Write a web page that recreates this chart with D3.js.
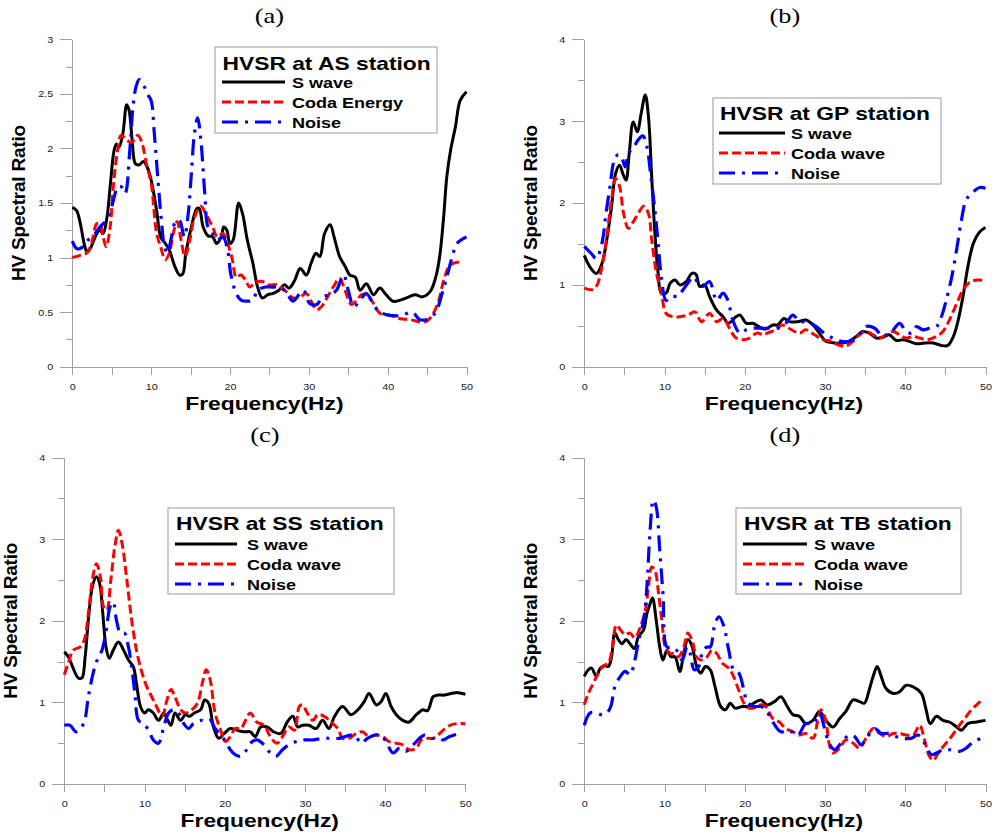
<!DOCTYPE html>
<html>
<head>
<meta charset="utf-8">
<script src="https://d3js.org/d3.v7.min.js"></script>
<style>
  body { margin:0; background:#fff; }
  text { font-family: "Liberation Sans", Arial, sans-serif; }
  .axis path, .axis line { stroke:#a0a0a0; stroke-width:1; shape-rendering:crispEdges; }
  .axis text { font-size:9px; fill:#222; }
  .ttl { font-weight:bold; fill:#000; }
  .panel-label { font-family:"Liberation Serif", "Times New Roman", serif; font-size:22px; }
  .curve { fill:none; stroke-linejoin:round; }
</style>
</head>
<body>
<script>
// ---- data: [frequency (Hz), HV ratio] ----
var asS = [[0,1.46],[0.55,1.43],[1.6,1.10],[1.9,1.05],[2.4,1.10],[3.1,1.22],[3.5,1.25],[3.9,1.22],[4.4,1.37],[4.8,1.65],[5.3,1.98],[5.6,2.04],[5.9,2.01],[6.4,2.13],[6.9,2.40],[7.2,2.35],[7.6,2.07],[8.0,1.86],[8.5,1.85],[9.0,1.88],[9.5,1.83],[10.0,1.71],[10.7,1.43],[11.2,1.19],[11.7,1.14],[12.3,1.07],[13.0,0.92],[13.6,0.84],[14.0,0.85],[14.4,1.04],[15.1,1.28],[15.8,1.45],[16.1,1.45],[16.6,1.28],[17.2,1.20],[17.8,1.19],[18.3,1.13],[18.9,1.19],[19.2,1.28],[19.6,1.25],[20.0,1.13],[20.4,1.16],[21.1,1.50],[21.6,1.40],[22.2,1.16],[22.9,0.95],[23.5,0.73],[24.1,0.63],[24.8,0.66],[25.4,0.67],[26.2,0.70],[26.9,0.75],[27.5,0.72],[28.2,0.79],[28.9,0.90],[29.7,0.84],[30.3,0.95],[30.9,1.04],[31.4,1.01],[32.0,1.22],[32.7,1.30],[33.2,1.19],[33.9,1.01],[34.6,0.92],[35.2,0.84],[35.9,0.82],[36.5,0.70],[37.3,0.76],[38.2,0.66],[39.0,0.72],[39.8,0.66],[40.7,0.60],[41.6,0.61],[42.7,0.64],[43.5,0.66],[44.4,0.64],[45.4,0.69],[46.1,0.82],[46.6,1.01],[47.1,1.37],[47.5,1.74],[48.0,1.99],[48.6,2.20],[49.2,2.44],[50,2.52]];
var asCoda = [[0,1.00],[1.0,1.02],[1.8,1.04],[2.4,1.12],[3.1,1.31],[3.5,1.31],[3.9,1.19],[4.3,1.10],[4.8,1.28],[5.2,1.65],[5.7,1.96],[6.2,2.12],[6.9,2.08],[7.5,2.05],[8.3,2.12],[8.8,2.06],[9.4,1.86],[10.0,1.68],[10.7,1.22],[11.2,1.10],[11.8,0.98],[12.3,1.04],[12.8,1.22],[13.3,1.33],[13.8,1.16],[14.3,1.01],[14.9,1.16],[15.5,1.37],[16.3,1.47],[17.0,1.39],[17.8,1.28],[18.4,1.19],[19.1,1.22],[19.7,1.13],[20.3,0.98],[20.8,0.82],[21.4,0.84],[22.0,0.79],[22.5,0.73],[23.3,0.78],[24.1,0.78],[25.0,0.75],[26.0,0.75],[27.1,0.69],[28.0,0.63],[28.9,0.64],[29.7,0.67],[30.3,0.60],[31.0,0.52],[31.6,0.55],[32.3,0.63],[33.1,0.73],[33.9,0.81],[34.6,0.70],[35.4,0.57],[36.1,0.61],[36.7,0.66],[37.4,0.66],[38.2,0.58],[39.0,0.49],[40.3,0.47],[41.6,0.44],[42.9,0.43],[44.1,0.41],[45.0,0.42],[45.8,0.49],[46.5,0.61],[47.1,0.79],[47.8,0.92],[48.4,0.95],[49.2,0.96]];
var asNoise = [[0,1.15],[0.6,1.08],[1.4,1.10],[2.0,1.16],[2.9,1.22],[3.5,1.28],[4.3,1.34],[5.0,1.47],[5.8,1.65],[6.2,1.65],[6.7,1.59],[7.3,1.99],[7.7,2.38],[8.1,2.57],[8.5,2.63],[9.1,2.57],[9.6,2.49],[10.0,2.44],[10.4,2.14],[10.9,1.68],[11.3,1.34],[11.7,1.10],[12.1,1.04],[12.5,1.16],[13.1,1.33],[13.6,1.34],[14.2,1.19],[14.7,1.40],[15.1,1.77],[15.5,2.14],[15.9,2.28],[16.3,2.08],[16.8,1.59],[17.2,1.28],[17.8,1.22],[18.4,1.16],[19.1,1.19],[19.7,1.07],[20.1,0.85],[20.8,0.67],[21.4,0.61],[22.2,0.60],[22.9,0.61],[23.5,0.70],[24.5,0.73],[25.4,0.73],[26.4,0.73],[27.3,0.66],[28.0,0.60],[29.3,0.70],[30.1,0.58],[31.0,0.57],[31.8,0.64],[32.7,0.66],[33.5,0.70],[34.4,0.84],[35.0,0.70],[35.7,0.55],[36.5,0.61],[37.3,0.67],[38.2,0.57],[39.0,0.50],[40.3,0.47],[41.8,0.47],[43.1,0.50],[44.1,0.43],[45.2,0.44],[46.1,0.50],[46.9,0.67],[47.5,0.82],[48.2,1.01],[48.8,1.13],[50,1.19]];

var gpS = [[0,1.36],[0.7,1.22],[1.5,1.14],[2.2,1.26],[2.8,1.55],[3.4,1.96],[3.9,2.36],[4.4,2.46],[4.8,2.36],[5.2,2.28],[5.6,2.61],[6.1,2.99],[6.6,2.87],[7.1,3.10],[7.6,3.32],[8.0,3.05],[8.4,2.32],[8.8,1.63],[9.2,1.14],[9.6,0.90],[10.2,0.90],[10.7,1.02],[11.3,1.06],[11.9,1.00],[12.7,1.04],[13.4,1.14],[13.9,1.13],[14.4,0.98],[15.0,1.00],[15.6,0.86],[16.5,0.69],[17.3,0.61],[17.9,0.53],[18.3,0.55],[18.9,0.61],[19.4,0.63],[20.2,0.53],[21.0,0.53],[21.9,0.48],[22.6,0.46],[23.5,0.51],[24.1,0.51],[24.9,0.59],[25.5,0.55],[26.6,0.55],[27.6,0.57],[28.5,0.51],[29.3,0.41],[30.1,0.31],[31.2,0.29],[32.2,0.29],[33.0,0.31],[33.9,0.37],[34.7,0.43],[35.5,0.41],[36.4,0.35],[37.2,0.36],[38.0,0.39],[38.9,0.32],[39.7,0.33],[40.5,0.31],[41.4,0.28],[42.4,0.29],[43.5,0.29],[44.5,0.26],[45.3,0.26],[46.0,0.37],[46.6,0.57],[47.2,0.86],[47.8,1.22],[48.5,1.51],[49.3,1.65],[50,1.70]];
var gpCoda = [[0,0.96],[0.9,0.94],[1.5,0.98],[2.2,1.22],[2.8,1.59],[3.4,2.04],[3.9,2.30],[4.4,2.20],[4.9,1.87],[5.5,1.69],[6.1,1.77],[6.7,1.87],[7.4,1.96],[8.0,1.87],[8.4,1.55],[9.0,1.14],[9.6,0.90],[10.2,0.65],[11.1,0.61],[11.9,0.61],[12.9,0.63],[13.8,0.67],[14.6,0.55],[15.6,0.65],[16.5,0.55],[17.3,0.59],[18.1,0.47],[18.8,0.36],[19.8,0.33],[20.6,0.35],[21.5,0.41],[22.3,0.39],[22.8,0.41],[23.8,0.45],[24.7,0.51],[25.5,0.47],[26.8,0.41],[27.6,0.45],[28.7,0.39],[29.7,0.33],[30.8,0.31],[31.8,0.26],[32.6,0.25],[33.5,0.31],[34.3,0.39],[35.1,0.43],[36.0,0.39],[36.8,0.35],[37.6,0.39],[38.5,0.43],[39.3,0.39],[40.1,0.35],[41.0,0.37],[41.8,0.35],[42.8,0.33],[43.9,0.37],[44.7,0.43],[45.5,0.57],[46.4,0.77],[47.2,0.94],[48.0,1.03],[49.1,1.06],[50,1.05]];
var gpNoise = [[0,1.47],[0.9,1.38],[1.5,1.32],[2.2,1.51],[2.7,1.87],[3.2,2.20],[3.7,2.51],[4.2,2.59],[4.6,2.57],[5.1,2.44],[5.5,2.61],[6.1,2.67],[6.7,2.77],[7.3,2.82],[7.8,2.69],[8.3,2.32],[8.8,1.91],[9.2,1.51],[9.6,1.10],[10.2,0.81],[10.9,0.86],[11.7,0.86],[12.3,0.94],[12.9,1.02],[13.6,1.10],[14.2,1.02],[14.8,0.98],[15.6,1.04],[16.5,0.81],[17.3,0.90],[17.9,0.81],[18.5,0.57],[19.4,0.41],[20.2,0.45],[21.0,0.47],[21.9,0.47],[23.0,0.47],[24.1,0.47],[25.1,0.53],[26.0,0.63],[26.8,0.55],[27.8,0.55],[28.9,0.49],[29.9,0.41],[31.0,0.35],[32.0,0.31],[33.0,0.31],[34.1,0.37],[35.1,0.49],[36.2,0.47],[37.2,0.37],[38.3,0.43],[39.3,0.53],[40.1,0.43],[40.8,0.41],[41.4,0.49],[42.2,0.45],[43.0,0.47],[43.9,0.49],[44.5,0.61],[45.1,0.81],[45.8,1.10],[46.4,1.43],[47.0,1.79],[47.6,2.04],[48.5,2.14],[49.3,2.19],[50,2.18]];

var ssS = [[0,1.62],[0.5,1.56],[1.1,1.42],[1.75,1.30],[2.2,1.30],[2.6,1.56],[3.0,2.01],[3.5,2.42],[4.0,2.54],[4.4,2.46],[4.8,2.09],[5.2,1.68],[5.6,1.54],[6.1,1.64],[6.75,1.74],[7.4,1.64],[8.0,1.52],[8.6,1.44],[9.0,1.23],[9.5,0.95],[10.0,0.87],[10.5,0.91],[11.1,0.87],[11.75,0.78],[12.4,0.87],[12.8,0.80],[13.3,0.72],[13.8,0.87],[14.5,0.78],[15.1,0.85],[15.6,0.83],[16.2,0.87],[17.0,0.91],[17.5,1.03],[18.0,0.99],[18.6,0.70],[19.25,0.56],[19.95,0.62],[20.7,0.68],[21.5,0.66],[22.4,0.64],[23.2,0.64],[23.8,0.58],[24.5,0.70],[25.3,0.70],[26.1,0.64],[27.0,0.62],[27.8,0.76],[28.5,0.83],[29.1,0.70],[29.7,0.72],[30.5,0.72],[31.4,0.68],[32.2,0.78],[33.0,0.68],[33.7,0.83],[34.7,0.95],[35.75,0.85],[36.6,0.91],[37.4,1.01],[38.0,1.11],[38.9,0.97],[39.5,1.01],[40.1,1.11],[40.75,0.95],[41.4,0.85],[42.2,0.78],[43.0,0.76],[43.9,0.85],[44.7,0.91],[45.3,0.90],[46.0,1.07],[46.6,1.09],[47.4,1.09],[48.25,1.11],[49.1,1.12],[50,1.10]];
var ssCoda = [[0,1.34],[0.5,1.48],[1.1,1.64],[2.0,1.68],[2.5,1.77],[3.0,2.09],[3.5,2.50],[4.0,2.70],[4.5,2.54],[4.9,2.17],[5.3,2.13],[5.8,2.50],[6.3,2.91],[6.75,3.11],[7.2,2.95],[7.8,2.50],[8.4,2.01],[9.0,1.64],[9.7,1.36],[10.3,1.19],[10.9,1.07],[11.5,0.95],[12.2,0.83],[12.8,1.03],[13.3,1.16],[13.8,1.07],[14.5,0.91],[15.1,0.87],[15.9,0.91],[16.6,0.99],[17.2,1.23],[17.7,1.40],[18.2,1.27],[18.8,0.87],[19.5,0.66],[20.1,0.52],[20.7,0.58],[21.3,0.68],[22.0,0.68],[22.6,0.78],[23.2,0.87],[24.0,0.76],[24.9,0.72],[25.7,0.58],[26.5,0.50],[27.2,0.58],[28.0,0.70],[28.7,0.66],[29.3,0.95],[29.7,0.97],[30.3,0.87],[31.0,0.78],[31.6,0.85],[32.4,0.83],[33.25,0.76],[34.1,0.68],[34.7,0.56],[35.5,0.56],[36.4,0.62],[37.2,0.64],[38.0,0.58],[38.9,0.60],[39.7,0.58],[40.5,0.52],[41.4,0.50],[42.2,0.48],[43.0,0.42],[43.9,0.44],[44.5,0.54],[45.3,0.56],[46.0,0.56],[46.6,0.60],[47.25,0.66],[48.1,0.72],[48.9,0.74],[50,0.74]];
var ssNoise = [[0,0.72],[0.7,0.72],[1.5,0.64],[2.4,0.74],[3.0,1.07],[3.6,1.36],[4.1,1.52],[4.7,1.64],[5.1,1.81],[5.4,2.01],[5.7,2.17],[6.1,2.23],[6.5,2.01],[7.0,1.85],[7.5,1.85],[8.0,1.68],[8.4,1.44],[8.8,1.11],[9.25,0.78],[9.9,0.74],[10.5,0.66],[11.1,0.54],[11.75,0.50],[12.4,0.70],[13.0,0.87],[13.6,0.91],[14.25,0.87],[14.9,0.74],[15.5,0.68],[16.1,0.74],[17.0,0.78],[17.6,0.76],[18.2,0.78],[18.8,0.68],[19.5,0.60],[20.1,0.52],[20.7,0.42],[21.3,0.36],[22.0,0.34],[22.6,0.40],[23.2,0.50],[24.0,0.54],[24.9,0.48],[25.7,0.38],[26.4,0.34],[27.2,0.42],[28.0,0.48],[28.9,0.52],[29.7,0.54],[31.0,0.54],[32.2,0.56],[33.25,0.56],[34.3,0.56],[35.3,0.59],[36.2,0.60],[37.0,0.50],[37.8,0.56],[38.7,0.60],[39.5,0.60],[40.1,0.52],[41.0,0.38],[41.8,0.44],[42.6,0.40],[43.5,0.48],[44.3,0.56],[44.9,0.60],[45.75,0.56],[46.6,0.56],[47.2,0.54],[48.0,0.58],[49.3,0.62]];

var tbS = [[0,1.32],[0.5,1.40],[0.9,1.42],[1.5,1.32],[2.0,1.42],[2.6,1.45],[3.0,1.44],[3.4,1.56],[3.8,1.85],[4.25,1.77],[4.7,1.72],[5.2,1.77],[5.7,1.72],[6.25,1.66],[6.75,1.81],[7.4,1.89],[7.8,2.09],[8.2,2.21],[8.5,2.28],[8.96,2.01],[9.4,1.68],[9.8,1.52],[10.3,1.64],[10.8,1.56],[11.3,1.56],[11.9,1.38],[12.4,1.60],[12.9,1.77],[13.4,1.70],[14.0,1.44],[14.5,1.36],[15.1,1.44],[15.7,1.40],[16.3,1.19],[17.0,0.95],[17.6,0.91],[18.2,0.99],[18.8,0.93],[19.7,0.95],[20.5,0.95],[21.1,0.99],[22.0,1.03],[22.8,0.97],[23.7,1.01],[24.5,1.07],[25.3,0.95],[26.0,0.85],[26.8,0.83],[27.6,0.74],[28.5,0.78],[29.3,0.89],[30.1,0.78],[31.0,0.70],[31.8,0.80],[32.6,0.89],[33.5,1.03],[34.3,1.01],[34.9,0.99],[35.5,1.15],[36.0,1.32],[36.5,1.44],[37.0,1.32],[37.6,1.17],[38.5,1.11],[39.3,1.13],[40.1,1.21],[41.0,1.19],[42.0,1.11],[42.6,0.91],[43.1,0.74],[43.9,0.83],[44.7,0.78],[45.5,0.76],[46.4,0.70],[47.0,0.66],[47.8,0.74],[48.9,0.76],[50,0.78]];
var tbCoda = [[0,0.97],[0.5,1.11],[1.1,1.23],[1.75,1.36],[2.4,1.45],[3.0,1.48],[3.5,1.68],[4.0,1.95],[4.5,1.89],[5.1,1.83],[5.7,1.85],[6.3,1.79],[7.0,1.93],[7.6,2.13],[8.0,2.42],[8.4,2.66],[8.8,2.62],[9.25,2.34],[9.7,1.97],[10.1,1.68],[10.7,1.60],[11.25,1.60],[11.75,1.56],[12.4,1.68],[12.9,1.85],[13.4,1.77],[14.0,1.56],[14.5,1.52],[15.3,1.56],[15.9,1.64],[16.5,1.60],[17.2,1.48],[18.0,1.42],[18.6,1.32],[19.25,1.15],[19.9,0.99],[20.5,0.93],[21.1,0.93],[22.0,0.97],[22.6,0.95],[23.5,0.80],[24.3,0.76],[25.1,0.68],[26.0,0.64],[26.8,0.60],[27.6,0.62],[28.5,0.56],[29.1,0.78],[29.5,0.91],[30.1,0.78],[30.5,0.50],[31.0,0.38],[31.8,0.44],[32.6,0.54],[33.5,0.50],[34.3,0.44],[35.1,0.56],[36.0,0.68],[36.8,0.62],[37.6,0.58],[38.5,0.62],[39.3,0.62],[40.1,0.60],[41.0,0.60],[41.8,0.72],[42.4,0.54],[43.0,0.34],[43.5,0.29],[44.1,0.38],[44.9,0.48],[45.75,0.58],[46.6,0.70],[47.4,0.80],[48.25,0.91],[49.1,0.99],[49.7,1.04]];
var tbNoise = [[0,0.72],[0.7,0.87],[1.5,0.87],[2.2,0.85],[2.8,0.87],[3.3,0.95],[3.8,1.19],[4.5,1.32],[5.1,1.38],[5.7,1.34],[6.3,1.52],[6.8,1.77],[7.4,2.01],[7.8,2.42],[8.2,3.11],[8.6,3.48],[8.96,3.40],[9.4,2.87],[9.8,2.34],[10.3,1.68],[10.9,1.68],[11.5,1.64],[12.2,1.52],[12.8,1.68],[13.2,1.60],[13.7,1.40],[14.25,1.44],[14.8,1.64],[15.3,1.68],[15.7,1.68],[16.3,1.97],[16.8,2.05],[17.4,1.93],[18.0,1.64],[18.6,1.40],[19.25,1.36],[19.8,1.19],[20.3,1.01],[21.1,0.95],[22.0,0.95],[22.6,0.91],[23.5,0.76],[24.5,0.64],[25.5,0.66],[26.6,0.60],[27.6,0.74],[28.5,0.74],[29.3,0.87],[29.9,0.70],[30.5,0.50],[31.2,0.42],[32.0,0.50],[33.0,0.60],[33.7,0.58],[34.5,0.48],[35.3,0.58],[36.2,0.68],[37.0,0.62],[37.8,0.62],[38.9,0.58],[39.7,0.56],[40.75,0.56],[41.6,0.60],[42.4,0.50],[43.25,0.36],[43.9,0.38],[44.7,0.42],[45.5,0.42],[46.75,0.40],[47.6,0.44],[48.5,0.52],[49.5,0.56]];

// ---- ticks and labels ----
var xTicks = [0, 10, 20, 30, 40, 50];
var xMinor = [5, 15, 25, 35, 45];
var yTicksA = [0, 0.5, 1, 1.5, 2, 2.5, 3];
var yMinorA = [0.25, 0.75, 1.25, 1.75, 2.25, 2.75];
var yTicks4 = [0, 1, 2, 3, 4];
var yMinor4 = [0.5, 1.5, 2.5, 3.5];
var panelLabels = ["(a)", "(b)", "(c)", "(d)"];
var stations = ["HVSR at AS station", "HVSR at GP station", "HVSR at SS station", "HVSR at TB station"];
var legendA = ["S wave", "Coda Energy", "Noise"];
var legendOther = ["S wave", "Coda wave", "Noise"];
var xTitle = "Frequency(Hz)", yTitle = "HV Spectral Ratio";

var K = 1.2; // the figure is a bit wide, glyphs look stretched horizontally

var svg = d3.select("body").append("svg").attr("width", 992).attr("height", 833);

function stretch(sel) {
  sel.each(function() {
    var len = this.getComputedTextLength();
    d3.select(this).attr("textLength", len * K).attr("lengthAdjust", "spacingAndGlyphs");
  });
}

var styles = [
  {color: "#000", width: 3, dash: null},
  {color: "#ff0000", width: 3, dash: "9,4"},
  {color: "#0000ff", width: 3.2, dash: "16,7,3,7"}
];

var panels = [
  {left: 72.3, right: 466.5, top: 39.3, bottom: 366.7, yMax: 3, yTicks: yTicksA, yMinor: yMinorA,
   series: [asS, asCoda, asNoise], names: legendA, xtOff: -5,
   leg: {x: 215, y: 47, w: 222, h: 86, tx: 222.5, ty: 70, lx0: 222, lx1: 285, ly: 82, labx: 292}},
  {left: 584.3, right: 985.5, top: 39.3, bottom: 366.7, yMax: 4, yTicks: yTicks4, yMinor: yMinor4,
   series: [gpS, gpCoda, gpNoise], names: legendOther, xtOff: -1,
   leg: {x: 713, y: 98, w: 228, h: 86, tx: 720, ty: 120, lx0: 719, lx1: 785, ly: 133, labx: 791}},
  {left: 64.3, right: 465.3, top: 457.7, bottom: 784, yMax: 4, yTicks: yTicks4, yMinor: yMinor4,
   series: [ssS, ssCoda, ssNoise], names: legendOther, xtOff: -5,
   leg: {x: 168, y: 508, w: 226, h: 86, tx: 176, ty: 530, lx0: 175, lx1: 237, ly: 544, labx: 247}},
  {left: 584.3, right: 985.5, top: 457.7, bottom: 784, yMax: 4, yTicks: yTicks4, yMinor: yMinor4,
   series: [tbS, tbCoda, tbNoise], names: legendOther, xtOff: -1,
   leg: {x: 736, y: 508, w: 225, h: 86, tx: 744, ty: 530, lx0: 743, lx1: 807, ly: 544, labx: 814}}
];

panels.forEach(function(p, i) {
  var x = d3.scaleLinear().domain([0, 50]).range([p.left, p.right]);
  var y = d3.scaleLinear().domain([0, p.yMax]).range([p.bottom, p.top]);
  var g = svg.append("g");

  // minor ticks
  g.append("g").attr("class", "axis").attr("transform", "translate(" + p.left + ",0)")
    .call(d3.axisLeft(y).tickValues(p.yMinor).tickSize(6).tickSizeOuter(0).tickFormat(""));
  g.append("g").attr("class", "axis").attr("transform", "translate(0," + p.bottom + ")")
    .call(d3.axisBottom(x).tickValues(xMinor).tickSize(8).tickSizeOuter(0).tickFormat(""));

  var ya = g.append("g").attr("class", "axis").attr("transform", "translate(" + p.left + ",0)")
    .call(d3.axisLeft(y).tickValues(p.yTicks).tickSize(12).tickPadding(7).tickSizeOuter(0).tickFormat(d3.format("")));
  var xa = g.append("g").attr("class", "axis").attr("transform", "translate(0," + p.bottom + ")")
    .call(d3.axisBottom(x).tickValues(xTicks).tickSize(8).tickPadding(9).tickSizeOuter(0));
  stretch(ya.selectAll("text"));
  stretch(xa.selectAll("text"));

  // curves
  var line = d3.line().x(function(d) { return x(d[0]); }).y(function(d) { return y(d[1]); })
    .curve(d3.curveCatmullRom.alpha(0.5));
  p.series.forEach(function(s, j) {
    g.append("path").datum(s).attr("class", "curve").attr("d", line)
      .attr("stroke", styles[j].color).attr("stroke-width", styles[j].width)
      .attr("stroke-dasharray", styles[j].dash);
  });

  // titles
  var cx = (p.left + p.right) / 2;
  stretch(svg.append("text").attr("class", "panel-label").attr("x", cx).attr("y", p.top - 16)
    .attr("text-anchor", "middle").text(panelLabels[i]));
  stretch(svg.append("text").attr("class", "ttl").attr("x", cx + p.xtOff).attr("y", p.bottom + 43)
    .attr("text-anchor", "middle").style("font-size", "19px").text(xTitle));
  svg.append("text").attr("class", "ttl")
    .attr("transform", "translate(" + (p.left - 47) + "," + (p.top + p.bottom) / 2 + ") rotate(-90)")
    .attr("text-anchor", "middle").style("font-size", "19px").style("letter-spacing", "-0.2px").text(yTitle);

  // legend
  var L = p.leg;
  var lg = svg.append("g");
  lg.append("rect").attr("x", L.x).attr("y", L.y).attr("width", L.w).attr("height", L.h)
    .attr("fill", "#fff").attr("stroke", "#999").attr("stroke-width", 1);
  stretch(lg.append("text").attr("class", "ttl").attr("x", L.tx).attr("y", L.ty)
    .style("font-size", "19px").text(stations[i]));
  p.names.forEach(function(n, j) {
    var ly = L.ly + j * 20;
    lg.append("line").attr("x1", L.lx0).attr("x2", L.lx1).attr("y1", ly).attr("y2", ly)
      .attr("stroke", styles[j].color).attr("stroke-width", styles[j].width)
      .attr("stroke-dasharray", styles[j].dash);
    stretch(lg.append("text").attr("class", "ttl").attr("x", L.labx).attr("y", ly + 6)
      .style("font-size", "15px").text(n));
  });
});
</script>
</body>
</html>
